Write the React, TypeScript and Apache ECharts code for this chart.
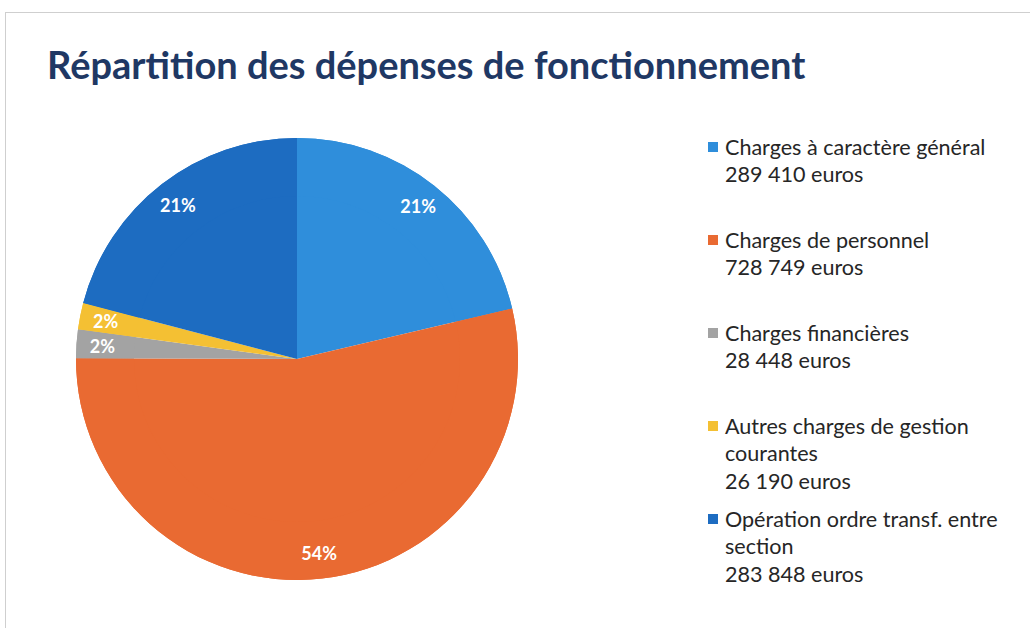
import React, { useEffect, useRef } from "react";
import * as echarts from "echarts";

const title = "Répartition des dépenses de fonctionnement";
const categories = [
  "Charges à caractère général",
  "Charges de personnel",
  "Charges financières",
  "Autres charges de gestion\ncourantes",
  "Opération ordre transf. entre\nsection",
];
const amounts = [289410, 728749, 28448, 26190, 283848];
const amountLabels = ["289 410 euros", "728 749 euros", "28 448 euros", "26 190 euros", "283 848 euros"];
const colors = ["#2f8edb", "#e96a32", "#a3a3a3", "#f4c033", "#1d6cc1"];

export default function App() {
  const ref = useRef<HTMLDivElement>(null);
  useEffect(() => {
    document.body.style.margin = "0";
    const chart = echarts.init(ref.current!, null, { renderer: "svg" });
    const data = categories.map((c, i) => ({
      name: c,
      value: amounts[i],
      itemStyle: { color: colors[i] },
    }));
    const legendEls: any[] = [];
    categories.forEach((c, i) => {
      const yc = 147 + 93 * i;
      legendEls.push({
        type: "rect",
        shape: { x: 708, y: yc - 5, width: 10, height: 10 },
        style: { fill: colors[i] },
      });
      legendEls.push({
        type: "text",
        x: 725,
        y: yc - 14,
        scaleX: 0.98,
        style: {
          text: c + "\n" + amountLabels[i],
          font: "22px Lato",
          fill: "#262626",
          lineHeight: 27.5,
          textVerticalAlign: "top",
          textAlign: "left",
        },
      });
    });
    chart.setOption({
      animation: false,
      backgroundColor: "#ffffff",
      graphic: [
        { type: "line", shape: { x1: 5, y1: 12.5, x2: 1030, y2: 12.5 }, style: { stroke: "#cfcfcf", lineWidth: 1 } },
        { type: "line", shape: { x1: 5.5, y1: 12, x2: 5.5, y2: 628 }, style: { stroke: "#cfcfcf", lineWidth: 1 } },
        {
          type: "text",
          x: 47,
          y: 64,
          scaleX: 1.0,
          style: {
            text: title,
            font: "bold 38px Lato",
            fill: "#1f3864",
            textVerticalAlign: "middle",
            textAlign: "left",
          },
        },
        ...legendEls,
      ],
      series: [
        {
          type: "pie",
          center: [297, 359],
          radius: [0, 221],
          startAngle: 90,
          clockwise: true,
          silent: true,
          label: { show: false },
          labelLine: { show: false },
          data,
        },
        {
          type: "pie",
          center: [297, 359],
          radius: [163, 221],
          startAngle: 90,
          clockwise: true,
          silent: true,
          label: {
            show: true,
            position: "inside",
            formatter: (p: any) => Math.round(p.percent) + "%",
            color: "#ffffff",
            fontFamily: "Lato",
            fontWeight: "bold",
            fontSize: 18,
          },
          labelLine: { show: false },
          data,
        },
      ],
    });
    return () => chart.dispose();
  }, []);
  return <div ref={ref} style={{ width: 1030, height: 628 }} />;
}
